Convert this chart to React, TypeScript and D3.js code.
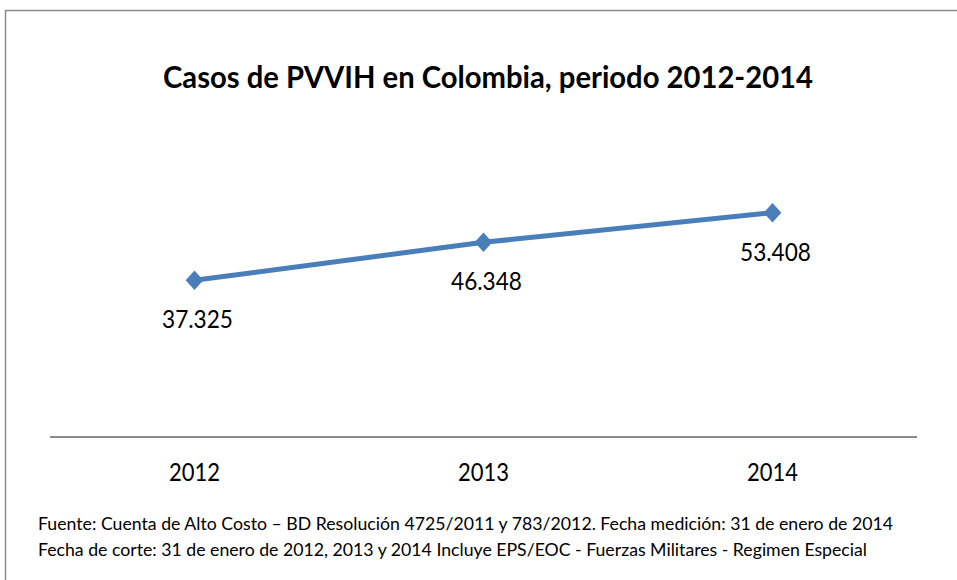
import React from "react";
import * as d3 from "d3";

const years = ["2012", "2013", "2014"];
const casos = [37325, 46348, 53408];
const labels = ["37.325", "46.348", "53.408"];
const title = "Casos de PVVIH en Colombia, periodo 2012-2014";
const notes = [
  "Fuente: Cuenta de Alto Costo – BD Resolución 4725/2011 y 783/2012. Fecha medición: 31 de enero de 2014",
  "Fecha de corte: 31 de enero de 2012, 2013 y 2014 Incluye EPS/EOC - Fuerzas Militares - Regimen Especial",
];

const W = 957;
const H = 580;
const FONT = "Lato, 'Open Sans', sans-serif";

export default function App() {
  const x = d3.scaleBand<string>().domain(years).range([50, 917]);
  const y = d3.scaleLinear().domain([0, 60000]).range([437, 185]);
  const cx = (d: string) => (x(d) as number) + x.bandwidth() / 2;
  const line = d3
    .line<number>()
    .x((_, i) => cx(years[i]))
    .y((v) => y(v));
  const diamond = d3.symbol().type(d3.symbolDiamond2).size(200)();

  return (
    <svg
      width={W}
      height={H}
      style={{ position: "absolute", left: 0, top: 0, background: "#fff" }}
    >
      <rect x={5.5} y={10.5} width={W + 20} height={H + 20} fill="#fff" stroke="#8c8c8c" strokeWidth={1.5} />
      <text
        x={488}
        y={88}
        textAnchor="middle"
        fontFamily={FONT}
        fontWeight="bold"
        fontSize={30}
        textLength={650}
        lengthAdjust="spacingAndGlyphs"
        fill="#000"
      >
        {title}
      </text>
      <line x1={50} x2={917} y1={437} y2={437} stroke="#8c8c8c" strokeWidth={2} />
      {years.map((yr) => (
        <text
          key={yr}
          x={cx(yr)}
          y={481}
          textAnchor="middle"
          fontFamily={FONT}
          fontSize={25}
          textLength={51}
          lengthAdjust="spacingAndGlyphs"
          fill="#000"
        >
          {yr}
        </text>
      ))}
      <path d={line(casos) || ""} fill="none" stroke="#4a7ebb" strokeWidth={5} />
      {casos.map((v, i) => (
        <path
          key={i}
          d={diamond || ""}
          transform={`translate(${cx(years[i])},${y(v)}) scale(1,1.1)`}
          fill="#4a7ebb"
        />
      ))}
      {casos.map((v, i) => (
        <text
          key={"l" + i}
          x={cx(years[i]) + 3}
          y={y(v) + 48}
          textAnchor="middle"
          fontFamily={FONT}
          fontSize={24.5}
          textLength={71}
          lengthAdjust="spacingAndGlyphs"
          fill="#000"
        >
          {labels[i]}
        </text>
      ))}
      {notes.map((n, i) => (
        <text
          key={"n" + i}
          x={38}
          y={530 + i * 26}
          fontFamily={FONT}
          fontSize={18}
          textLength={i === 0 ? 855 : 829}
          lengthAdjust="spacingAndGlyphs"
          fill="#000"
        >
          {n}
        </text>
      ))}
    </svg>
  );
}
